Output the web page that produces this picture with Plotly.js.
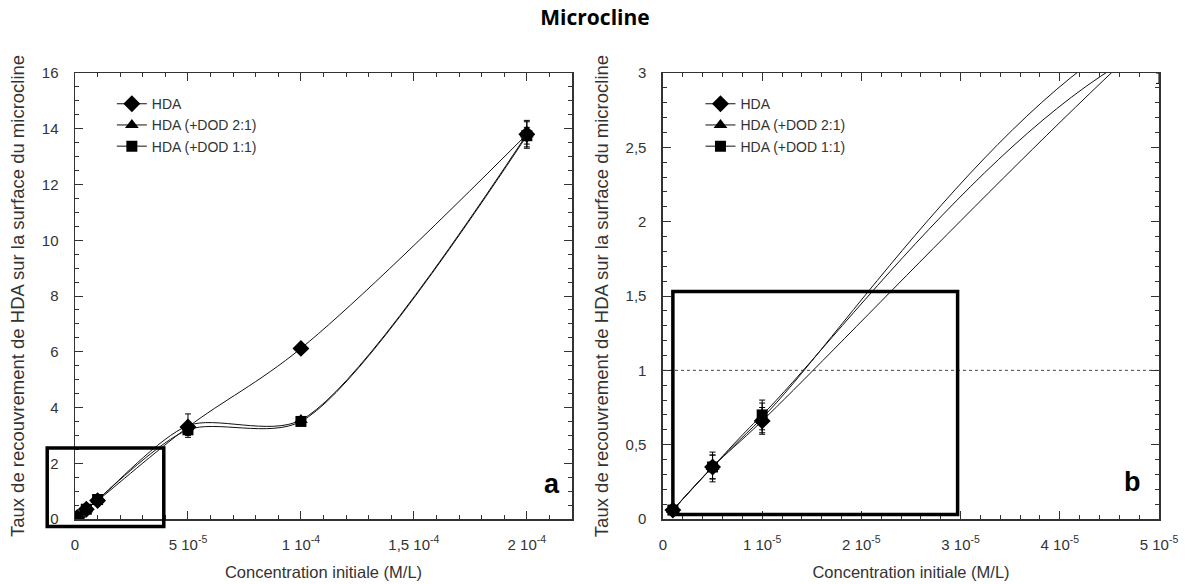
<!DOCTYPE html>
<html><head><meta charset="utf-8">
<script src="https://cdn.plot.ly/plotly-3.0.1.min.js"></script>
<style>body{margin:0;background:#fff}</style>
</head><body><div id="chart" style="width:1190px;height:584px"></div>
<script>
// ---- data ----
const concentration = [1e-6, 5e-6, 1e-5, 5e-5, 1e-4, 2e-4];
const hda         = [0.06, 0.35, 0.66, 3.30, 6.12, 13.80];
const hdaErr      = [0.02, 0.08, 0.09, 0.15, 0.15, 0.45];
const hdaDod21    = [0.06, 0.35, 0.68, 3.35, 3.55, 13.80];
const hdaDod21Err = [0.02, 0.10, 0.10, 0.42, 0.10, 0.50];
const hdaDod11    = [0.06, 0.35, 0.70, 3.20, 3.50, 13.75];
const hdaDod11Err = [0.02, 0.08, 0.10, 0.20, 0.10, 0.30];
const seriesNames = ['HDA', 'HDA (+DOD 2:1)', 'HDA (+DOD 1:1)'];
const xTickValsA = [0, 5e-5, 1e-4, 1.5e-4, 2e-4];
const xTickTextA = ['0', '5 10<sup>-5</sup>', '1 10<sup>-4</sup>', '1,5 10<sup>-4</sup>', '2 10<sup>-4</sup>'];
const xTickValsB = [0, 1e-5, 2e-5, 3e-5, 4e-5, 5e-5];
const xTickTextB = ['0', '1 10<sup>-5</sup>', '2 10<sup>-5</sup>', '3 10<sup>-5</sup>', '4 10<sup>-5</sup>', '5 10<sup>-5</sup>'];
const zoomBoxA = {x: [-1.23e-5, 3.93e-5], y: [-0.27, 2.55]};
const zoomBoxB = {x: [1e-6, 2.97e-5], y: [0.03, 1.53]};
const referenceLevel = 1;
const rangeXA = [0, 2.2e-4], rangeYA = [0, 16];
const rangeXB = [0, 5e-5],   rangeYB = [0, 3];

// ---- styles ----
const FONT = 'Liberation Sans, Arial, sans-serif';
const INK = '#333';
const symbols = ['diamond', 'triangle-up', 'square'];
const sizes = [13, 12, 11];
const smoothA = [1, 0.8, 0.8];
const smoothB = [1, 1, 1];
const ys = [hda, hdaDod21, hdaDod11];
const errs = [hdaErr, hdaDod21Err, hdaDod11Err];

const traces = [];
[['x', 'y', 'legend', smoothA], ['x2', 'y2', 'legend2', smoothB]].forEach(([xa, ya, lg, sm]) => {
  ys.forEach((y, i) => {
    traces.push({
      type: 'scatter', mode: 'lines+markers',
      x: concentration, y: y, name: seriesNames[i],
      xaxis: xa, yaxis: ya, legend: lg,
      line: {color: '#111', width: 1, shape: 'spline', smoothing: sm[i]},
      marker: {symbol: symbols[i], size: sizes[i], color: '#000'},
      error_y: {type: 'data', array: errs[i], visible: true, color: '#000', thickness: 1, width: 3}
    });
  });
});

function axisX(range, vals, text, minorD, domain, anchor) {
  return {
    domain: domain, range: range, anchor: anchor,
    tickmode: 'array', tickvals: vals, ticktext: text,
    ticks: 'inside', ticklen: 8, tickwidth: 1, tickcolor: INK,
    minor: {dtick: minorD, tick0: 0, ticks: 'inside', ticklen: 4, tickcolor: INK, tickwidth: 1},
    showline: true, linecolor: INK, linewidth: 1.5, mirror: 'allticks',
    showgrid: false, zeroline: false,
    tickfont: {family: FONT, size: 15, color: INK},
    ticklabelstandoff: 11,
    title: {text: 'Concentration initiale (M/L)', font: {family: FONT, size: 16.5, color: INK}, standoff: 15}
  };
}
function axisY(range, dtick, minorD, anchor) {
  return {
    domain: [0, 1], range: range, anchor: anchor,
    tick0: 0, dtick: dtick,
    ticks: 'inside', ticklen: 8, tickwidth: 1, tickcolor: INK,
    minor: {dtick: minorD, tick0: 0, ticks: 'inside', ticklen: 4, tickcolor: INK, tickwidth: 1},
    showline: true, linecolor: INK, linewidth: 1.5, mirror: 'allticks',
    showgrid: false, zeroline: false,
    tickfont: {family: FONT, size: 15, color: INK},
    ticklabelstandoff: 12,
    title: {text: 'Taux de recouvrement de HDA sur la surface du microcline', font: {family: FONT, size: 18.5, color: INK}, standoff: 12}
  };
}
const frac = (v, r) => (v - r[0]) / (r[1] - r[0]);

const layout = {
  width: 1190, height: 584,
  margin: {l: 75, r: 31, t: 73, b: 65},
  paper_bgcolor: '#fff', plot_bgcolor: '#fff',
  separators: ', ',
  showlegend: true,
  title: {text: '<b>Microcline</b>', font: {family: 'Open Sans, sans-serif', size: 21, color: '#000'},
          x: 0.5, xref: 'container', y: 1 - 18 / 584, yref: 'container', yanchor: 'middle'},
  xaxis: axisX(rangeXA, xTickValsA, xTickTextA, 1e-5, [0, 0.4585], 'y'),
  yaxis: axisY(rangeYA, 2, 0.5, 'x'),
  xaxis2: axisX(rangeXB, xTickValsB, xTickTextB, 2e-6, [0.5424, 1], 'y2'),
  yaxis2: axisY(rangeYB, 0.5, 0.1, 'x2'),
  legend: {x: 0.034, y: 0.966, xanchor: 'left', yanchor: 'top', bgcolor: 'rgba(0,0,0,0)',
           font: {family: FONT, size: 14, color: INK}, tracegroupgap: 0},
  legend2: {x: 0.577, y: 0.966, xanchor: 'left', yanchor: 'top', bgcolor: 'rgba(0,0,0,0)',
           font: {family: FONT, size: 14, color: INK}, tracegroupgap: 0},
  shapes: [
    {type: 'rect', xref: 'x domain', yref: 'y domain',
     x0: frac(zoomBoxA.x[0], rangeXA), x1: frac(zoomBoxA.x[1], rangeXA),
     y0: frac(zoomBoxA.y[0], rangeYA), y1: frac(zoomBoxA.y[1], rangeYA),
     line: {color: '#000', width: 3.5}},
    {type: 'rect', xref: 'x2 domain', yref: 'y2 domain',
     x0: frac(zoomBoxB.x[0], rangeXB), x1: frac(zoomBoxB.x[1], rangeXB),
     y0: frac(zoomBoxB.y[0], rangeYB), y1: frac(zoomBoxB.y[1], rangeYB),
     line: {color: '#000', width: 3.5}},
    {type: 'line', xref: 'x2 domain', yref: 'y2', x0: 0, x1: 1, y0: referenceLevel, y1: referenceLevel,
     line: {color: '#444', width: 1, dash: 'dot'}, layer: 'below'}
  ],
  annotations: [
    {text: '<b>a</b>', xref: 'x domain', yref: 'y domain', x: 0.98, y: 0.04, showarrow: false,
     font: {family: FONT, size: 27, color: '#000'}},
    {text: '<b>b</b>', xref: 'x2 domain', yref: 'y2 domain', x: 0.967, y: 0.045, showarrow: false,
     font: {family: FONT, size: 27, color: '#000'}}
  ]
};

Plotly.newPlot('chart', traces, layout, {staticPlot: true, displayModeBar: false});
</script>
</body></html>
